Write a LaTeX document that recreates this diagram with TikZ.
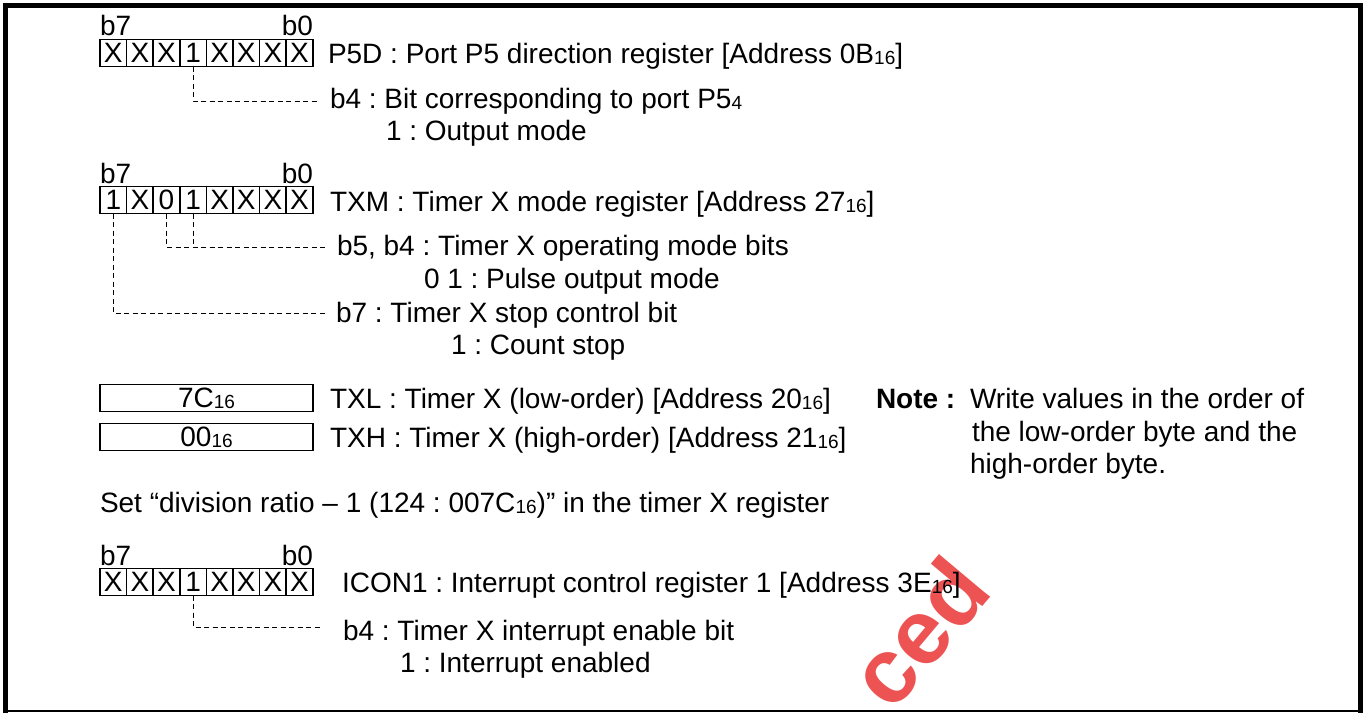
\documentclass[tikz,border=0pt]{standalone}
\usepackage{fontspec}
\setmainfont{Liberation Sans}
\frenchspacing
\newcommand{\sbs}[1]{\raisebox{-1pt}{\fontsize{19}{19}\selectfont #1}}
\definecolor{wm}{RGB}{232,40,40}
\begin{document}
\begin{tikzpicture}[x=1pt,y=-1pt,
  every node/.style={inner sep=0pt, outer sep=0pt, font=\fontsize{28}{33}\selectfont},
  cell/.style={draw, line width=1.6pt, minimum width=26.6pt, minimum height=27pt, anchor=center},
  lbl/.style={anchor=base west},
  wide/.style={draw, line width=1.8pt, minimum width=213pt, minimum height=27pt},
  lead/.style={dash pattern=on 5pt off 3.5pt, line width=1pt}
]
\useasboundingbox (0,0) rectangle (1366,713);
% watermark
\begin{scope}
\clip (0,0) rectangle (1366,713);
\node[rotate=50, text=wm, opacity=0.8, font=\fontsize{92}{92}\selectfont\bfseries] (wmk) at (918,632) {ced};
\end{scope}
% frame
\draw[line width=5pt, line join=miter] (5.5,713) -- (5.5,5.5) -- (1360.5,5.5) -- (1360.5,713);
\draw[line width=2.5pt] (3,711) -- (1363,711);

% ---- P5D ----
\node[anchor=base west] (ab7) at (100,35) {b7};
\node[anchor=base east] (ab0) at (313,35) {b0};
\foreach \v [count=\i from 0] in {X,X,X,1,X,X,X,X}
  \node[cell] (a\i) at ({113.3+\i*26.6},53) {\v};
\node[lbl] (p5d) at (328,63) {P5D : Port P5 direction register [Address 0B\sbs{16}]};
\node[lbl] (p5db4) at (330,108) {b4 : Bit corresponding to port P5\sbs{4}};
\node[lbl] (p5dv) at (386,140) {1 : Output mode};
\coordinate (ae) at (319,101);
\draw[lead] (a3.south) |- (ae);

% ---- TXM ----
\node[anchor=base west] (bb7) at (100,183) {b7};
\node[anchor=base east] (bb0) at (313,183) {b0};
\foreach \v [count=\i from 0] in {1,X,0,1,X,X,X,X}
  \node[cell] (b\i) at ({113.3+\i*26.6},200) {\v};
\node[lbl] (txm) at (330,211) {TXM : Timer X mode register [Address 27\sbs{16}]};
\node[lbl] (txmb54) at (337,255) {b5, b4 : Timer X operating mode bits};
\node[lbl] (txmv54) at (424,288) {0 1 : Pulse output mode};
\node[lbl] (txmb7) at (336,322) {b7 : Timer X stop control bit};
\node[lbl] (txmv7) at (451,354) {1 : Count stop};
\coordinate (be1) at (325,247);
\coordinate (be2) at (328,313);
\draw[lead] (b2.south) |- (be1);
\draw[lead] (b3.south) -- (b3.south |- be1);
\draw[lead] (b0.south) |- (be2);

% ---- TXL / TXH ----
\node[wide] (txlbox) at (206.5,398) {7C\sbs{16}};
\node[wide] (txhbox) at (206.5,437) {00\sbs{16}};
\node[lbl] (txl) at (330,408) {TXL : Timer X (low-order) [Address 20\sbs{16}]};
\node[lbl] (txh) at (330,447) {TXH : Timer X (high-order) [Address 21\sbs{16}]};
\node[lbl] (set) at (100,512) {Set “division ratio – 1 (124 : 007C\sbs{16})” in the timer X register};

% ---- Note ----
\node[lbl, font=\fontsize{28}{33}\selectfont\bfseries] (note) at (876,408) {Note :};
\node[lbl] (note1) at (970,408) {Write values in the order of};
\node[lbl] (note2) at (972,441) {the low-order byte and the};
\node[lbl] (note3) at (970,473) {high-order byte.};

% ---- ICON1 ----
\node[anchor=base west] (cb7) at (100,565) {b7};
\node[anchor=base east] (cb0) at (313,565) {b0};
\foreach \v [count=\i from 0] in {X,X,X,1,X,X,X,X}
  \node[cell] (c\i) at ({113.3+\i*26.6},582) {\v};
\node[lbl] (icon) at (342,592) {ICON1 : Interrupt control register 1 [Address 3E\sbs{16}]};
\node[lbl] (iconb4) at (343,640) {b4 : Timer X interrupt enable bit};
\node[lbl] (iconv) at (400,672) {1 : Interrupt enabled};
\coordinate (ce) at (321,627);
\draw[lead] (c3.south) |- (ce);
\end{tikzpicture}
\end{document}
